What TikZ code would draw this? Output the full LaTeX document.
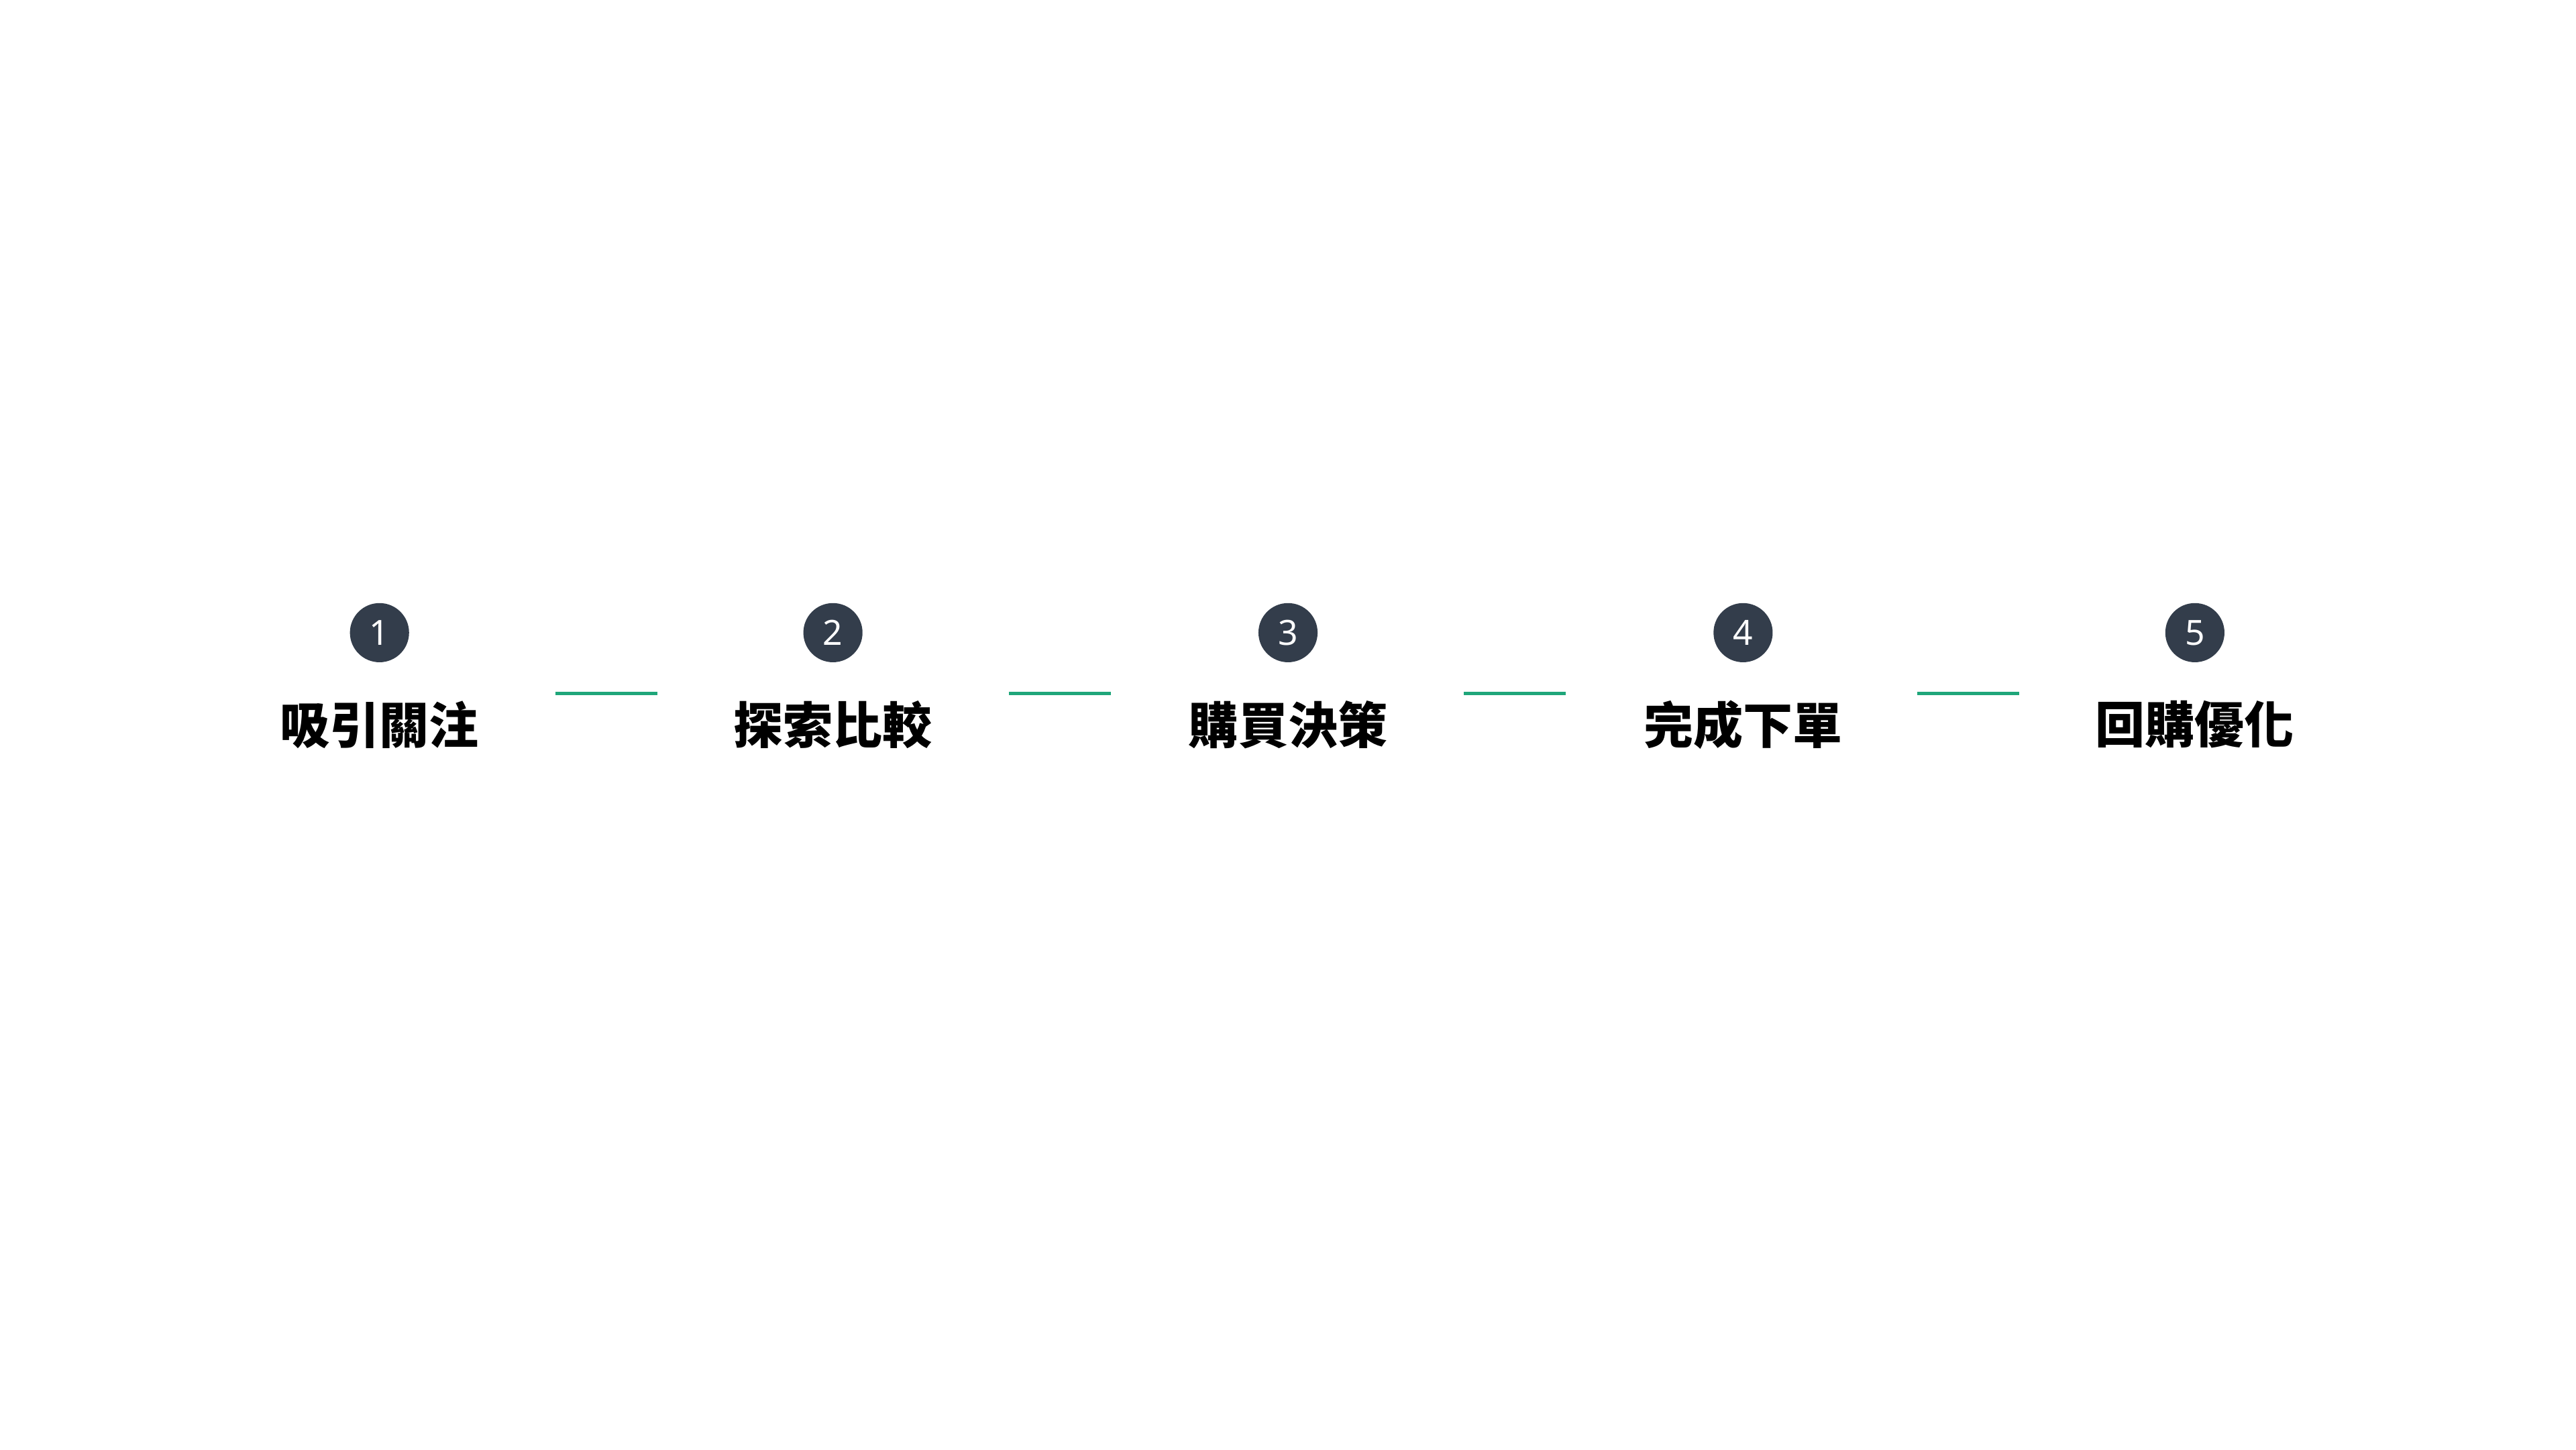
\documentclass[tikz,border=0pt]{standalone}
\usepackage{fontspec}
\setmainfont{Noto Sans}
\newfontfamily\cjk{Noto Sans CJK TC}
\definecolor{stepdark}{HTML}{333D4B}
\definecolor{linkgreen}{HTML}{1FA67A}
\begin{document}
\begin{tikzpicture}[
    stepdot/.style={circle, fill=stepdark, minimum size=0.36cm, inner sep=0pt,
        text=white, font=\fontsize{6}{6}\selectfont\bfseries},
    steplabel/.style={font=\cjk\fontsize{8.6}{9}\selectfont\bfseries, inner sep=0pt},
    linkline/.style={draw=linkgreen, line width=0.6pt}
]
    % Rahmen
    \useasboundingbox (0,0) rectangle (15.68,8.82);

    % Schritte
    \foreach \i/\x/\txt in {1/2.31/吸引關注, 2/5.07/探索比較, 3/7.84/購買決策,
                            4/10.61/完成下單, 5/13.36/回購優化} {
        \node[stepdot] (step\i) at (\x,4.97) {\i};
        \node[steplabel] (lab\i) at (\x,4.41) {\txt};
    }

    % Verbindungen
    \foreach \i/\a/\b in {1/3.38/4.00, 2/6.14/6.76, 3/8.91/9.53, 4/11.67/12.29} {
        \coordinate (link\i a) at (\a,4.60);
        \coordinate (link\i b) at (\b,4.60);
        \draw[linkline] (link\i a) -- (link\i b);
    }
\end{tikzpicture}
\end{document}
